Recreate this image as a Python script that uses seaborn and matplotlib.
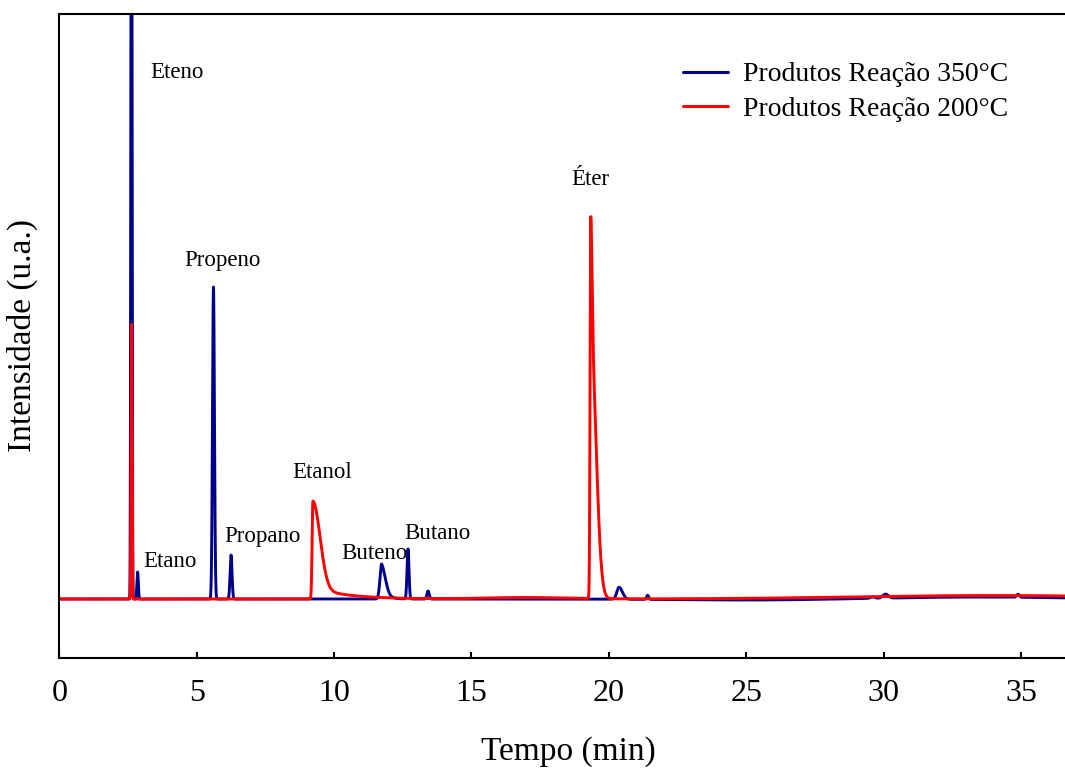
import numpy as np
import pandas as pd
import matplotlib
matplotlib.use("Agg")
import matplotlib.pyplot as plt
import seaborn as sns

# ---------------- data ----------------
# peak tables: retention time (min), height (a.u.), sigma left, sigma right, tail fraction, tail tau
blue_rt     = [2.61, 2.64, 2.85, 5.61, 6.25, 11.73, 12.69, 13.42, 20.37, 21.41, 29.60, 30.07, 34.89, 25.0, 33.5]
blue_height = [560,  583,  27,   312,  44,   35,    50,    8,     12,    4,     1.5,   4,     3,     -1.0, 2.0]
blue_sl     = [0.015,0.015,0.025,0.035,0.035,0.06,  0.035, 0.04,  0.08,  0.04,  0.08,  0.10,  0.05,  2.5,  3.0]
blue_sr     = [0.015,0.015,0.025,0.035,0.035,0.14,  0.035, 0.04,  0.12,  0.04,  0.08,  0.10,  0.05,  2.5,  3.0]
blue_tail   = [0.0,  0.0,  0.0,  0.0,  0.0,  0.3,   0.0,   0.0,   0.0,   0.0,   0.0,   0.0,   0.0,   0.0,  0.0]
blue_tau    = [1.0,  1.0,  1.0,  1.0,  1.0,  0.2,   1.0,   1.0,   1.0,   1.0,   1.0,   1.0,   1.0,   1.0,  1.0]

red_rt     = [2.63,  9.23, 19.34, 19.34, 17.0, 34.0]
red_height = [275,   98,   262,   120,   1.5,  3.5]
red_sl     = [0.018, 0.03, 0.025, 0.02,  1.5,  5.0]
red_sr     = [0.018, 0.26, 0.19,  0.045, 1.5,  5.0]
red_tail   = [0.0,   0.12, 0.0,   0.0,   0.0,  0.0]
red_tau    = [1.0,   1.2,  1.0,   1.0,   1.0,  1.0]

series_names = ["Produtos Reação 350°C", "Produtos Reação 200°C"]
series_colors = ["#00008B", "#FF0000"]

peak_labels = ["Eteno", "Etano", "Propeno", "Propano", "Etanol", "Buteno", "Butano", "Éter"]
label_x     = [3.30,    3.04,    5.92,      5.99,      9.56,     10.25,    12.54,    19.31]
label_y     = [526,     38,      338,       63,        127,      46,       66,       419]
label_ha    = ["left",  "left",  "center",  "left",    "center", "left",   "left",   "center"]

x_ticks = [0, 5, 10, 15, 20, 25, 30, 35]
x_max = 36.6

# ---------------- build signals from the peak tables ----------------
t = np.linspace(0, x_max, 12000)

def trace(rt, h, sl, sr, tail, tau):
    y = np.zeros_like(t)
    for c, a, s1, s2, f, ta in zip(rt, h, sl, sr, tail, tau):
        d = t - c
        left = a * np.exp(-0.5 * (d / s1) ** 2)
        dr = np.clip(d, 0, None)
        right = a * ((1 - f) * np.exp(-0.5 * (dr / s2) ** 2) + f * np.exp(-dr / ta))
        y += np.where(d < 0, left, right)
    return y

blue = trace(blue_rt, blue_height, blue_sl, blue_sr, blue_tail, blue_tau)
red = trace(red_rt, red_height, red_sl, red_sr, red_tail, red_tau)

df = pd.concat([
    pd.DataFrame({"Tempo": t, "Intensidade": blue, "Série": series_names[0]}),
    pd.DataFrame({"Tempo": t, "Intensidade": red, "Série": series_names[1]}),
])

# ---------------- plot ----------------
sns.set_theme(style="ticks")
plt.rcParams["font.family"] = ["Liberation Serif", "DejaVu Serif"]
plt.rcParams["text.color"] = "black"
plt.rcParams["axes.labelcolor"] = "black"
plt.rcParams["xtick.color"] = "black"
plt.rcParams["ytick.color"] = "black"

fig = plt.figure(figsize=(10.65, 7.68), dpi=100)
ax = fig.add_axes([0.0557, 0.1432, 0.9443, 0.8386])

sns.lineplot(data=df, x="Tempo", y="Intensidade", hue="Série",
             palette=dict(zip(series_names, series_colors)),
             estimator=None, sort=False, linewidth=2.1, ax=ax)

ax.set_xlim(0, x_max)
ax.set_ylim(-59, 585)
ax.set_xticks(x_ticks)
ax.set_xticklabels([str(v) for v in x_ticks])
ax.set_yticks([])

for sp in ["top", "left", "bottom"]:
    ax.spines[sp].set_linewidth(1.5)
    ax.spines[sp].set_color("black")
ax.spines["right"].set_visible(False)

ax.tick_params(axis="x", direction="in", length=4, width=1.5, labelsize=23, pad=15,
               colors="black", labelcolor="black")

ax.set_xlabel("Tempo (min)", fontsize=24, va="center", color="black")
ax.xaxis.set_label_coords(0.506, -0.145)
ax.set_ylabel("Intensidade (u.a.)", fontsize=24, va="center", color="black")
ax.yaxis.set_label_coords(-0.0366, 0.5)

for txt, lx, ly, ha in zip(peak_labels, label_x, label_y, label_ha):
    ax.text(lx, ly, txt, fontsize=16.5, ha=ha, va="center", color="black")

leg = ax.legend(loc="upper left", bbox_to_anchor=(683 / 1065, 1 - 62 / 768),
                bbox_transform=fig.transFigure, frameon=False, fontsize=20,
                handlelength=1.62, handletextpad=0.53, labelspacing=0.33,
                borderpad=0, borderaxespad=0, title=None)
for line in leg.get_lines():
    line.set_linewidth(2.2)
for tx in leg.get_texts():
    tx.set_color("black")

fig.savefig("out.png", dpi=100)
